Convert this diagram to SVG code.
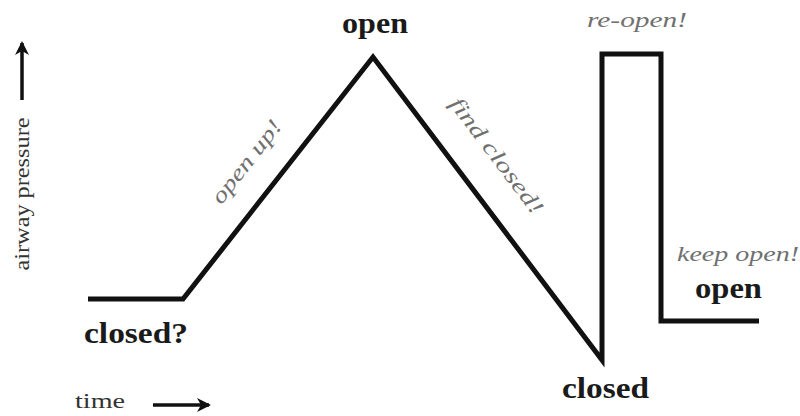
<svg xmlns="http://www.w3.org/2000/svg" width="800" height="416" viewBox="0 0 800 416">
<style>
.b{font-family:"Liberation Serif",serif;font-weight:bold;font-size:29px;fill:#1a1a1a}
.i{font-family:"Liberation Serif",serif;font-style:italic;font-size:22px;fill:#707070}
.r{font-family:"Liberation Serif",serif;font-size:22px;fill:#333}
.ln{fill:none;stroke:#111;stroke-width:5;stroke-linejoin:miter}
</style>
<defs>
<marker id="ah" markerWidth="16" markerHeight="16" refX="12" refY="7" orient="auto" markerUnits="userSpaceOnUse"><path d="M0,0 L14,7 L0,14 L4,7 Z" fill="#111"/></marker>
</defs>
<rect width="800" height="416" fill="#fff"/>
<g id="connectors">
<path class="ln" d="M88,299 L183,299 L373,57 L602,360 L602,54 L661,54 L661,321 L759,321"/>
<line x1="22" y1="100" x2="22" y2="43" stroke="#111" stroke-width="3.5" marker-end="url(#ah)"/>
<line x1="153" y1="405" x2="209" y2="405" stroke="#111" stroke-width="3.5" marker-end="url(#ah)"/>
</g>
<g id="open-top"><text class="b" x="375" y="33" text-anchor="middle" textLength="66" lengthAdjust="spacingAndGlyphs">open</text></g>
<g id="closed-q"><text class="b" x="84" y="343" textLength="104" lengthAdjust="spacingAndGlyphs">closed?</text></g>
<g id="closed"><text class="b" x="562" y="398" textLength="87" lengthAdjust="spacingAndGlyphs">closed</text></g>
<g id="open-right"><text class="b" x="695" y="298" textLength="67" lengthAdjust="spacingAndGlyphs">open</text></g>
<g id="reopen"><text class="i" x="587" y="27" textLength="100" lengthAdjust="spacingAndGlyphs">re-open!</text></g>
<g id="keepopen"><text class="i" x="677" y="261" textLength="122" lengthAdjust="spacingAndGlyphs">keep open!</text></g>
<g id="openup"><text class="i" transform="translate(252,166) rotate(-52)" text-anchor="middle" textLength="100" lengthAdjust="spacingAndGlyphs">open up!</text></g>
<g id="findclosed"><text class="i" transform="translate(491,160) rotate(53)" text-anchor="middle" textLength="140" lengthAdjust="spacingAndGlyphs">find closed!</text></g>
<g id="time"><text class="r" x="75" y="408" textLength="50" lengthAdjust="spacingAndGlyphs">time</text></g>
<g id="pressure"><text class="r" transform="translate(29,194) rotate(-90)" text-anchor="middle" textLength="153" lengthAdjust="spacingAndGlyphs">airway pressure</text></g>
</svg>
